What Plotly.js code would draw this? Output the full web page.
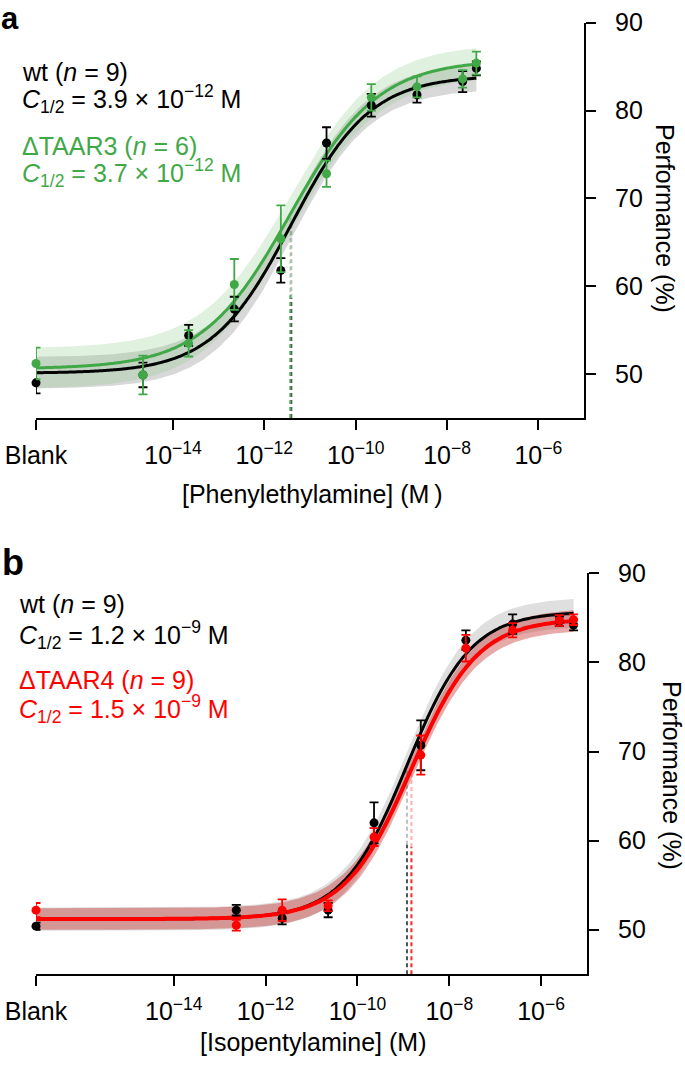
<!DOCTYPE html>
<html>
<head>
<meta charset="utf-8">
<script src="https://cdn.plot.ly/plotly-3.0.1.min.js"></script>
<style>html,body{margin:0;padding:0;background:#fff;}#chart{width:685px;height:1065px;}</style>
</head>
<body>
<div id="chart"></div>
<script>
// ---------- DATA ----------
// Concentrations (M); the first entry is the "Blank" position on the axis
var blankPos = 1e-17;
var concA = [1e-17, 2.2e-15, 2.2e-14, 2.2e-13, 2.3e-12, 2.3e-11, 2.2e-10, 2.2e-9, 2.2e-8, 4.4e-8];
var wtA = [49.0, 49.9, 54.4, 57.4, 61.8, 76.3, 80.6, 81.8, 83.3, 84.8];
var wtAErr = [1.2, 1.4, 1.2, 1.4, 1.4, 1.8, 1.3, 0.9, 1.2, 0.8];
var taar3A = [51.2, 49.9, 53.5, 60.2, 65.4, 72.8, 81.5, 82.7, 83.6, 85.4];
var taar3AErr = [1.8, 2.2, 1.5, 2.9, 3.8, 1.5, 1.5, 1.2, 1.0, 1.3];

var concB = [1e-17, 2.3e-13, 2.3e-12, 2.3e-11, 2.3e-10, 2.4e-9, 2.3e-8, 2.4e-7, 2.5e-6, 5.1e-6];
var wtB = [50.4, 52.2, 51.3, 52.2, 62.0, 70.7, 82.5, 84.3, 84.6, 84.2];
var wtBErr = [0.4, 0.6, 0.7, 0.8, 2.3, 2.8, 1.1, 1.1, 0.5, 0.6];
var taar4B = [52.2, 50.5, 52.2, 52.7, 60.4, 69.6, 81.6, 83.6, 84.7, 84.8];
var taar4BErr = [0.8, 0.6, 1.2, 0.6, 1.0, 2.2, 1.5, 0.8, 0.6, 0.6];

// Fitted dose-response parameters: [bottom, top, C1/2, Hill slope, band dBottom, band dTop]
var fitWtA = [50.1, 84.0, 3.9e-12, 0.50, 1.8, 1.5];
var fitTaar3A = [50.6, 85.8, 3.7e-12, 0.45, 2.3, 1.8];
var fitWtB = [51.2, 85.7, 1.2e-9, 0.62, 1.3, 1.6];
var fitTaar4B = [51.2, 84.9, 1.5e-9, 0.60, 1.2, 1.2];

var tickVals = [1e-17, 1e-14, 1e-12, 1e-10, 1e-8, 1e-6];
var tickText = ['Blank', '10<sup>\u221214</sup>', '10<sup>\u221212</sup>', '10<sup>\u221210</sup>', '10<sup>\u22128</sup>', '10<sup>\u22126</sup>'];
var yTicks = [50, 60, 70, 80, 90];

// ---------- HELPERS ----------
var W = 685, H = 1065;
var FONT = 'Liberation Sans, Arial, Helvetica, sans-serif';
var BLACK = '#000000', GREEN = '#41a847', RED = '#ff0000';

function hill(p, c, db, dt) {
  var b = p[0] + (db || 0), t = p[1] + (dt || 0);
  return b + (t - b) / (1 + Math.pow(p[2] / c, p[3]));
}
function logRange(l0, l1, n) {
  var out = [];
  for (var i = 0; i <= n; i++) out.push(Math.pow(10, l0 + (l1 - l0) * i / n));
  return out;
}
function curveTrace(p, l0, l1, color, width, xa, ya) {
  var xs = logRange(l0, l1, 200);
  return {x: xs, y: xs.map(function (c) { return hill(p, c); }), mode: 'lines', type: 'scatter',
    line: {color: color, width: width, shape: 'spline'}, xaxis: xa, yaxis: ya, hoverinfo: 'skip'};
}
function bandTrace(p, l0, l1, fill, xa, ya) {
  var xs = logRange(l0, l1, 200);
  var up = xs.map(function (c) { return hill(p, c, p[4], p[5]); });
  var lo = xs.map(function (c) { return hill(p, c, -p[4], -p[5]); });
  return {x: xs.concat(xs.slice().reverse()), y: up.concat(lo.reverse()), mode: 'lines', type: 'scatter',
    fill: 'toself', fillcolor: fill, line: {width: 0}, xaxis: xa, yaxis: ya, hoverinfo: 'skip'};
}
function pointTrace(xs, ys, err, color, xa, ya) {
  return {x: xs, y: ys, mode: 'markers', type: 'scatter', xaxis: xa, yaxis: ya, cliponaxis: false,
    marker: {color: color, size: 9},
    error_y: {type: 'data', array: err, visible: true, color: color, thickness: 1.8, width: 4.5}};
}
function dashTraces(p, color, xa, ya) {
  var c = p[2], yTop = hill(p, c), y0 = 45, ySplit = y0 + (yTop - y0) * 0.62;
  return [
    {x: [c, c], y: [y0, ySplit], mode: 'lines', type: 'scatter', xaxis: xa, yaxis: ya, opacity: 0.85,
      line: {color: color, width: 2, dash: '4px,3px'}, hoverinfo: 'skip'},
    {x: [c, c], y: [ySplit, yTop], mode: 'lines', type: 'scatter', xaxis: xa, yaxis: ya, opacity: 0.3,
      line: {color: color, width: 2, dash: '4px,3px'}, hoverinfo: 'skip'}
  ];
}

var data = [];
// Panel a
data.push(bandTrace(fitWtA, -17.5, Math.log10(concA[concA.length - 1]), 'rgba(140,140,140,0.34)', 'x', 'y'));
data.push(bandTrace(fitTaar3A, -17.5, Math.log10(concA[concA.length - 1]), 'rgba(130,200,130,0.25)', 'x', 'y'));
data = data.concat(dashTraces(fitWtA, '#333333', 'x', 'y'));
data = data.concat(dashTraces(fitTaar3A, GREEN, 'x', 'y'));
data.push(curveTrace(fitWtA, -17.1, Math.log10(concA[concA.length - 1]), BLACK, 3, 'x', 'y'));
data.push(curveTrace(fitTaar3A, -17.1, Math.log10(concA[concA.length - 1]), GREEN, 3, 'x', 'y'));
data.push(pointTrace(concA, wtA, wtAErr, BLACK, 'x', 'y'));
data.push(pointTrace(concA, taar3A, taar3AErr, GREEN, 'x', 'y'));
// Panel b
data.push(bandTrace(fitWtB, -17.4, Math.log10(concB[concB.length - 1]), 'rgba(150,150,150,0.3)', 'x2', 'y2'));
data.push(bandTrace(fitTaar4B, -17.4, Math.log10(concB[concB.length - 1]), 'rgba(200,50,50,0.42)', 'x2', 'y2'));
data = data.concat(dashTraces(fitWtB, '#333333', 'x2', 'y2'));
data = data.concat(dashTraces(fitTaar4B, RED, 'x2', 'y2'));
data.push(curveTrace(fitWtB, -17.05, Math.log10(concB[concB.length - 1]), BLACK, 3, 'x2', 'y2'));
data.push(curveTrace(fitTaar4B, -17.05, Math.log10(concB[concB.length - 1]), RED, 4, 'x2', 'y2'));
data.push(pointTrace(concB, wtB, wtBErr, BLACK, 'x2', 'y2'));
data.push(pointTrace(concB, taar4B, taar4BErr, RED, 'x2', 'y2'));

function xAxis(domR, anchor) {
  return {type: 'log', range: [-17, -5], domain: [36 / W, domR / W], anchor: anchor,
    showline: true, linecolor: '#000', linewidth: 2, ticks: 'outside', ticklen: 10, tickwidth: 2, tickcolor: '#000',
    tickvals: tickVals, ticktext: tickText, showgrid: false, zeroline: false,
    tickfont: {family: FONT, size: 25, color: '#000'}, ticklabelstandoff: 4, fixedrange: true};
}
function yAxis(top, bottom, anchor) {
  return {range: [45, 90], domain: [1 - bottom / H, 1 - top / H], anchor: anchor, side: 'right',
    showline: true, linecolor: '#000', linewidth: 2, ticks: 'outside', ticklen: 10, tickwidth: 2, tickcolor: '#000',
    tickvals: yTicks, showgrid: false, zeroline: false,
    tickfont: {family: FONT, size: 25, color: '#000'}, ticklabelstandoff: 14, fixedrange: true};
}

function ann(text, x, y, color, size, extra) {
  var a = {text: text, x: x / W, y: 1 - y / H, xref: 'paper', yref: 'paper', showarrow: false,
    xanchor: 'left', yanchor: 'middle', font: {family: FONT, size: size || 25, color: color || '#000'}};
  if (extra) for (var k in extra) a[k] = extra[k];
  return a;
}

var annotations = [
  ann('<b>a</b>', 0, 0, '#000', 31, {yanchor: 'top', borderpad: 0}),
  ann('wt (<i>n</i> = 9)', 20, 72, BLACK),
  ann('<i>C</i><sub>1/2</sub> = 3.9 \u00d7 10<sup>\u221212</sup> M', 20, 99, BLACK),
  ann('\u0394TAAR3 (<i>n</i> = 6)', 20, 146, GREEN),
  ann('<i>C</i><sub>1/2</sub> = 3.7 \u00d7 10<sup>\u221212</sup> M', 20, 173, GREEN),
  ann('[Phenylethylamine] (M\u2009)', 312, 494, '#000', 25, {xanchor: 'center'}),
  ann('Performance (%)', 665, 218, '#000', 25, {xanchor: 'center', textangle: 90}),

  ann('<b>b</b>', 0, 562, '#000', 36),
  ann('wt (<i>n</i> = 9)', 17, 604, BLACK),
  ann('<i>C</i><sub>1/2</sub> = 1.2 \u00d7 10<sup>\u22129</sup> M', 17, 635, BLACK),
  ann('\u0394TAAR4 (<i>n</i> = 9)', 17, 680, RED),
  ann('<i>C</i><sub>1/2</sub> = 1.5 \u00d7 10<sup>\u22129</sup> M', 17, 709, RED),
  ann('[Isopentylamine] (M)', 313, 1042, '#000', 25, {xanchor: 'center'}),
  ann('Performance (%)', 672, 775, '#000', 25, {xanchor: 'center', textangle: 90})
];

var layout = {
  width: W, height: H, margin: {l: 0, r: 0, t: 0, b: 0},
  paper_bgcolor: '#fff', plot_bgcolor: 'rgba(0,0,0,0)', showlegend: false,
  font: {family: FONT, size: 25, color: '#000'},
  xaxis: xAxis(584, 'y'), yaxis: yAxis(22.7, 418, 'x'),
  xaxis2: xAxis(587, 'y2'), yaxis2: yAxis(573.3, 974.3, 'x2'),
  annotations: annotations
};

Plotly.newPlot('chart', data, layout, {displayModeBar: false, staticPlot: true});
</script>
</body>
</html>
